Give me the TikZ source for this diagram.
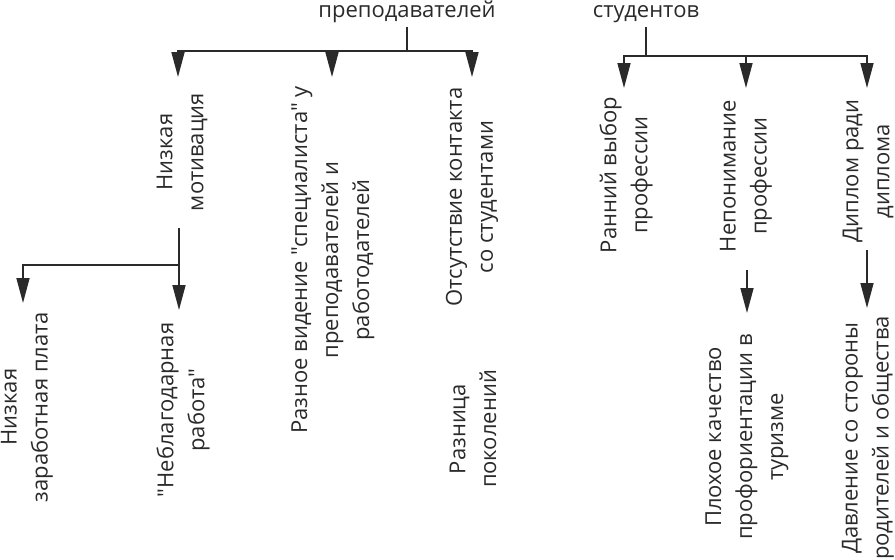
\documentclass[tikz,border=0pt]{standalone}
\usepackage{fontspec}
\setmainfont{Open Sans}
\newfontfamily\lblfont{Open Sans}
\usetikzlibrary{arrows.meta}
\definecolor{ink}{HTML}{2a2a2a}
\begin{document}
\begin{tikzpicture}[x=1pt,y=-1pt,
  lbl/.style={rotate=90,align=center,inner sep=0pt,text=ink,font=\lblfont\fontsize{22}{31}\selectfont},
  ttl/.style={anchor=base,inner sep=0pt,text=ink,font=\lblfont\fontsize{22}{31}\selectfont},
  ln/.style={draw=ink,line width=1.6pt},
  arr/.style={ln,-{Triangle[length=25pt,width=13pt]}}]
\useasboundingbox (0,0) rectangle (895,560);
% titles
\node[ttl] (tp) at (407,17) {преподавателей};
\node[ttl] (ts) at (646,17) {студентов};
% left group
\node[lbl] (m1) at (182,152) {Низкая\\мотивация};
\node[lbl] (m2) at (333,260) {Разное видение "специалиста" у\\преподавателей и\\работодателей};
\node[lbl] (m3) at (472,197) {Отсутствие контакта\\со студентами};
\node[lbl] (m4) at (473,429) {Разница\\поколений};
\node[lbl] (m5) at (27,407) {Низкая\\заработная плата};
\node[lbl] (m6) at (183,410) {"Неблагодарная\\работа"};
% right group
\node[lbl] (s1) at (626,175) {Ранний выбор\\профессии};
\node[lbl] (s2) at (746,176) {Непонимание\\профессии};
\node[lbl] (s3) at (868,171) {Диплом ради\\диплома};
\node[lbl] (s4) at (747,437) {Плохое качество\\профориентации в\\туризме};
\node[lbl] (s5) at (868,438) {Давление со стороны\\родителей и общества};
% connector coordinates
\coordinate (tpbot) at (407,27);
\coordinate (bus1) at (407,51);
\coordinate (m1t) at (178,77);
\coordinate (m2t) at (332,77);
\coordinate (m3t) at (472,77);
\coordinate (tsbot) at (646,27);
\coordinate (bus2) at (646,56);
\coordinate (s1t) at (624,88);
\coordinate (s2t) at (746,88);
\coordinate (s3t) at (867,88);
\coordinate (m1b) at (179,228);
\coordinate (m1j) at (179,265);
\coordinate (m6t) at (179,310);
\coordinate (m5t) at (23,303);
\coordinate (s2b) at (747,270);
\coordinate (s4t) at (747,313);
\coordinate (s3b) at (867,250);
\coordinate (s5t) at (867,308);
% connectors left
\draw[ln] (tpbot) -- (bus1);
\draw[arr] (bus1) -| (m1t);
\draw[arr] (bus1) -| (m3t);
\draw[arr] (bus1 -| m2t) -- (m2t);
\draw[arr] (m1b) -- (m6t);
\draw[arr] (m1j) -| (m5t);
% connectors right
\draw[ln] (tsbot) -- (bus2);
\draw[arr] (bus2) -| (s1t);
\draw[arr] (bus2) -| (s3t);
\draw[arr] (bus2 -| s2t) -- (s2t);
\draw[arr] (s2b) -- (s4t);
\draw[arr] (s3b) -- (s5t);
\end{tikzpicture}
\end{document}
